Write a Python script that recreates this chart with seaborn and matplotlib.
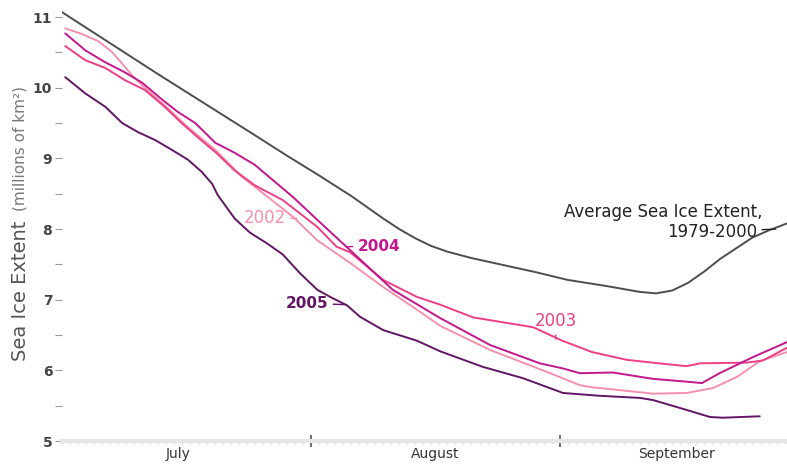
import numpy as np
import pandas as pd
import seaborn as sns
from matplotlib import pyplot as plt
from matplotlib.ticker import MultipleLocator, FixedLocator

# dias contados a partir de 1 de julho
dias_media = [0, 6, 12, 18, 24, 28, 32, 36, 40, 42, 44, 46, 48, 51, 55, 59, 63,
              68, 72, 74, 76, 78, 80, 82, 84, 86, 88, 90.3]
media = [11.07, 10.63, 10.19, 9.76, 9.33, 9.04, 8.76, 8.47, 8.15, 8.00, 7.87, 7.76,
         7.68, 7.59, 7.49, 7.39, 7.28, 7.19, 7.11, 7.09, 7.13, 7.24, 7.40, 7.58,
         7.73, 7.88, 7.98, 8.08]

dias_2002 = [0.4, 2.5, 4.5, 6.2, 7.5, 8.7, 10.3, 12.5, 15.7, 19.1, 22.4, 24, 28.8,
             31.8, 35.9, 40, 44.2, 47.1, 53.3, 60.8, 64.5, 66.1, 72, 73.6, 77.8,
             81.1, 84.1, 86.9, 90.3]
ext_2002 = [10.84, 10.76, 10.66, 10.51, 10.34, 10.18, 10.0, 9.78, 9.44, 9.12, 8.74,
            8.60, 8.17, 7.84, 7.52, 7.18, 6.86, 6.63, 6.29, 5.96, 5.79, 5.76, 5.69,
            5.67, 5.68, 5.75, 5.91, 6.13, 6.26]

dias_2003 = [0.4, 2.9, 5.4, 7.8, 10.3, 12.8, 14.9, 16.9, 19.1, 21.5, 24, 27.5, 31.8,
             34.2, 35.9, 40, 44.2, 47.1, 51.2, 58.7, 62.3, 66, 70.3, 74.3, 77.8,
             79.5, 85.3, 87.3, 90.3]
ext_2003 = [10.59, 10.39, 10.28, 10.11, 9.97, 9.73, 9.50, 9.30, 9.09, 8.83, 8.62,
            8.41, 8.03, 7.75, 7.67, 7.28, 7.04, 6.93, 6.75, 6.61, 6.42, 6.26, 6.15,
            6.10, 6.06, 6.10, 6.11, 6.14, 6.32]

dias_2004 = [0.4, 2.9, 5.4, 7.8, 10, 12.5, 14.4, 16.6, 19.1, 21.5, 24, 28.8, 31.8,
             35.9, 41.2, 47.1, 53.3, 59.5, 62.3, 64.5, 68.6, 73.6, 77.8, 79.7, 81.9,
             86.1, 90.3]
ext_2004 = [10.77, 10.53, 10.36, 10.22, 10.07, 9.83, 9.66, 9.50, 9.22, 9.08, 8.91,
            8.45, 8.13, 7.70, 7.14, 6.74, 6.36, 6.10, 6.03, 5.96, 5.97, 5.88, 5.84,
            5.82, 5.96, 6.19, 6.40]

dias_2005 = [0.4, 2.9, 5.4, 7.5, 9.5, 11.6, 13.7, 15.7, 17.4, 18.7, 19.4, 21.5, 23.4,
             25.5, 27.5, 29.6, 31.8, 33.4, 35.5, 37.1, 40, 44.2, 47.1, 52.4, 57.4,
             62.4, 67, 72, 73.6, 77.8, 80.7, 82.3, 86.9]
ext_2005 = [10.15, 9.92, 9.73, 9.50, 9.37, 9.26, 9.12, 8.98, 8.81, 8.64, 8.48, 8.15,
            7.95, 7.80, 7.64, 7.38, 7.14, 7.04, 6.92, 6.76, 6.57, 6.42, 6.27, 6.05,
            5.89, 5.68, 5.64, 5.61, 5.58, 5.44, 5.34, 5.33, 5.35]

meses = ['July', 'August', 'September']
centro_meses = [14.5, 46.5, 76.5]
inicio_meses = [31, 62]

cores = {'media': '#4d4d4d', '2002': '#f590ae', '2003': '#ee3f86',
         '2004': '#c2178d', '2005': '#621565'}

partes = []
for nome, d, v in [('media', dias_media, media), ('2002', dias_2002, ext_2002),
                   ('2003', dias_2003, ext_2003), ('2004', dias_2004, ext_2004),
                   ('2005', dias_2005, ext_2005)]:
    partes.append(pd.DataFrame({'dia': d, 'extensao': v, 'serie': nome}))
df = pd.concat(partes, ignore_index=True)

sns.set_theme(style='white')
plt.rcParams['font.family'] = ['DejaVu Sans']

fig = plt.figure(figsize=(7.87, 4.66), dpi=100)
ax = fig.add_axes([0.0788, 0.0536, 0.9212, 0.94])

sns.lineplot(data=df, x='dia', y='extensao', hue='serie', palette=cores,
             hue_order=['2002', '2003', '2004', '2005', 'media'],
             linewidth=1.4, legend=False, sort=True, estimator=None, ax=ax)

ax.set_xlim(0, 90.3)
ax.set_ylim(5, 11.2)
ax.set_xlabel('')
ax.set_ylabel('')

for s in ['top', 'right', 'left']:
    ax.spines[s].set_visible(False)
ax.spines['bottom'].set_color('#e6e6e6')
ax.spines['bottom'].set_linewidth(3)

# eixo y
ax.yaxis.set_major_locator(MultipleLocator(1))
ax.yaxis.set_minor_locator(MultipleLocator(0.5))
ax.tick_params(axis='y', which='both', left=True, length=5, width=0.8,
               color='#999999', pad=2)
ax.tick_params(axis='y', which='major', labelsize=10, labelcolor='#444444')
for t in ax.get_yticklabels():
    t.set_fontweight('bold')

# eixo x: dias (menores) e meses
ax.xaxis.set_major_locator(FixedLocator(inicio_meses))
ax.xaxis.set_minor_locator(MultipleLocator(1))
ax.tick_params(axis='x', which='major', bottom=True, length=8, width=1.2,
               color='#555555', direction='inout', labelbottom=False)
ax.tick_params(axis='x', which='minor', bottom=True, length=2.5, width=1,
               color='#999999', direction='inout')
for m, c in zip(meses, centro_meses):
    ax.text(c, -0.014, m, transform=ax.get_xaxis_transform(), ha='center',
            va='top', fontsize=10, color='#333333')

# rótulo do eixo y
fig.text(0.026, (466 - 361) / 466, 'Sea Ice Extent', rotation=90, ha='center',
         va='bottom', fontsize=14, color='#555555')
fig.text(0.026, (466 - 211) / 466, '(millions of km²)', rotation=90, ha='center',
         va='bottom', fontsize=11, color='#777777')

# anotações
seta = dict(arrowstyle='-', lw=1.0, shrinkA=1, shrinkB=0)
ax.annotate('2002', xy=(29.3, 8.15), xytext=(27.9, 8.16), ha='right', va='center',
            fontsize=12, color=cores['2002'], arrowprops=dict(seta, color=cores['2002']))
ax.annotate('2004', xy=(35.5, 7.75), xytext=(36.8, 7.76), ha='left', va='center',
            fontsize=11, fontweight='bold', color=cores['2004'],
            arrowprops=dict(seta, color=cores['2004']))
ax.annotate('2005', xy=(35.4, 6.93), xytext=(33.2, 6.95), ha='right', va='center',
            fontsize=11, fontweight='bold', color=cores['2005'],
            arrowprops=dict(seta, color=cores['2005']))
ax.annotate('2003', xy=(61.5, 6.44), xytext=(61.5, 6.57), ha='center', va='bottom',
            fontsize=12, color=cores['2003'], arrowprops=dict(seta, color=cores['2003']))
ax.text(87.3, 8.24, 'Average Sea Ice Extent,', ha='right', va='center',
        fontsize=12, color='#222222')
ax.annotate('1979-2000', xy=(88.9, 8.0), xytext=(86.6, 7.96), ha='right', va='center',
            fontsize=12, color='#222222', arrowprops=dict(seta, color='#222222'))

plt.savefig('out.png', dpi=100)
